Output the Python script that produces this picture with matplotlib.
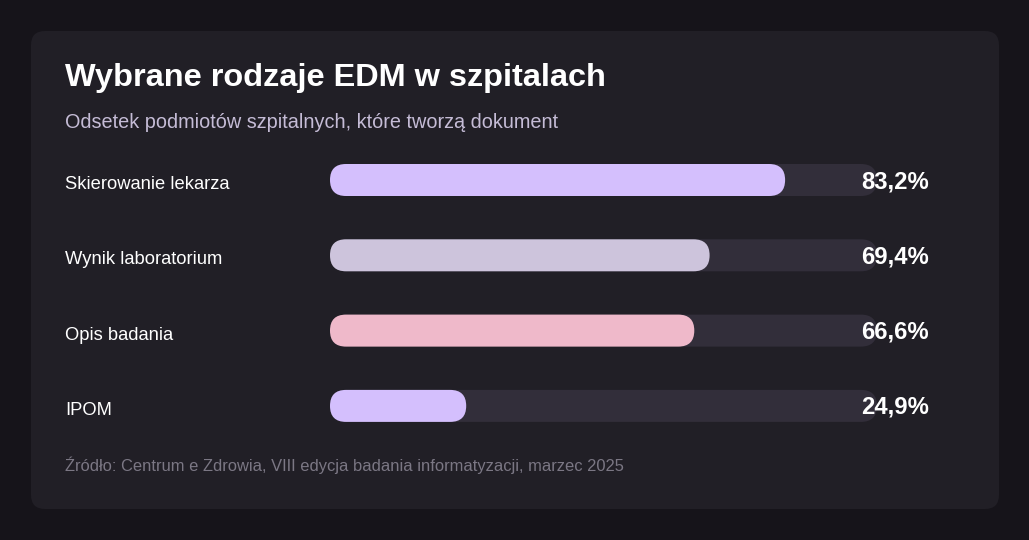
import matplotlib
matplotlib.use("Agg")
import matplotlib.pyplot as plt
from matplotlib.patches import FancyBboxPatch

plt.rcParams['font.family'] = ['Liberation Sans', 'DejaVu Sans']

title = 'Wybrane rodzaje EDM w szpitalach'
subtitle = 'Odsetek podmiotów szpitalnych, które tworzą dokument'
source = 'Źródło: Centrum e Zdrowia, VIII edycja badania informatyzacji, marzec 2025'
categories = ['Skierowanie lekarza', 'Wynik laboratorium', 'Opis badania', 'IPOM']
values = [83.2, 69.4, 66.6, 24.9]
value_labels = ['83,2%', '69,4%', '66,6%', '24,9%']
bar_colors = ['#d4bffd', '#cdc4dc', '#efb9ca', '#d4bffd']

W, H = 1029, 540
fig = plt.figure(figsize=(W / 100, H / 100), dpi=100)
fig.patch.set_facecolor('#16141a')


def ftext(x, y, s, **kw):
    # text in pixel coordinates, drawn above all axes
    fig.text(x / W, 1 - y / H, s, **kw)


# background axes in pixel coordinates
bg = fig.add_axes([0, 0, 1, 1])
bg.set_xlim(0, W)
bg.set_ylim(H, 0)
bg.axis('off')
card = FancyBboxPatch((31, 31), 968, 478, boxstyle='round,pad=0,rounding_size=14',
                      facecolor='#211f26', edgecolor='none')
bg.add_patch(card)
ftext(65, 78, title, fontsize=23.4, fontweight='bold', color='white', va='center')
ftext(65, 123, subtitle, fontsize=14.3, color='#c5bcd6', va='center')
ftext(65, 465, source, fontsize=11.9, color='#7b7784', va='center')

# bar axes: x in percent, y in category index
x0, x1 = 330, 877
y_top, step = 180, 75.3
n = len(categories)
ax = fig.add_axes([x0 / W, 1 - (y_top + (n - 0.5) * step) / H,
                   (x1 - x0) / W, n * step / H])
ax.set_xlim(0, 100)
ax.set_ylim(n - 0.5, -0.5)
ax.axis('off')

px_x = (x1 - x0) / 100
px_y = step
bar_h = 32 / px_y
asp = px_x / px_y
r = 16 / px_x

for i, (cat, v, lab, c) in enumerate(zip(categories, values, value_labels, bar_colors)):
    ax.add_patch(FancyBboxPatch((0, i - bar_h / 2), 100, bar_h,
                                boxstyle=f'round,pad=0,rounding_size={r}',
                                mutation_aspect=asp, facecolor='#322e3a', edgecolor='none'))
    ax.add_patch(FancyBboxPatch((0, i - bar_h / 2), v, bar_h,
                                boxstyle=f'round,pad=0,rounding_size={r}',
                                mutation_aspect=asp, facecolor=c, edgecolor='none'))
    yc = y_top + i * step
    ftext(65, yc + 4.5, cat, fontsize=13.2, color='white', va='center')
    ftext(929, yc + 1.5, lab, fontsize=17.2, fontweight='bold', color='white',
          va='center', ha='right')

fig.savefig('out.png', dpi=100, facecolor=fig.get_facecolor())
